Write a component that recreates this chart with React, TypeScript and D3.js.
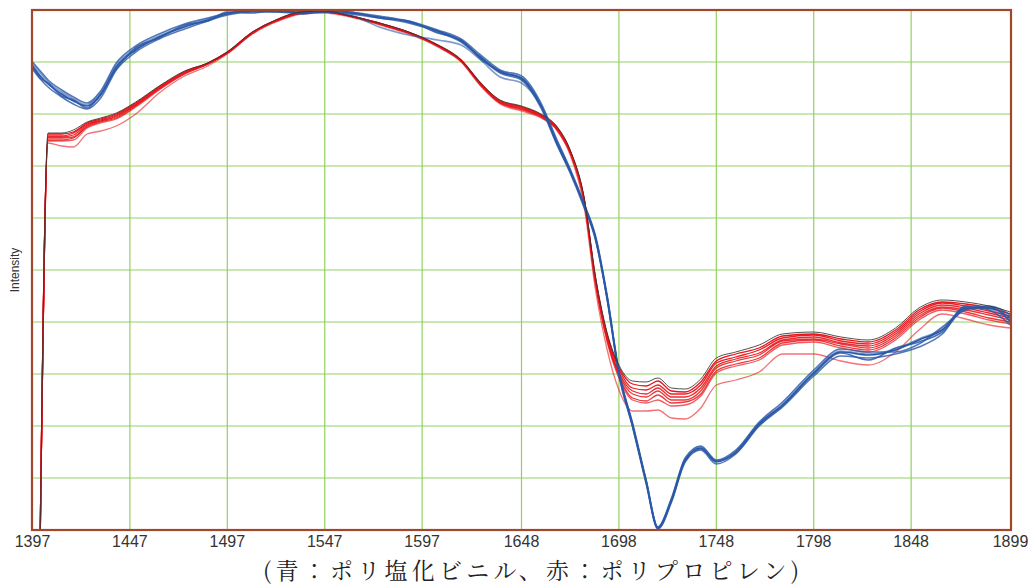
import React from 'react';
import * as d3 from 'd3';

const W = 1030;
const H = 588;

const xTicks = [1397, 1447, 1497, 1547, 1597, 1648, 1698, 1748, 1798, 1848, 1899];
const yGrid = [52, 104, 156, 208, 260, 312, 364, 416, 468];

const redWn = [1401, 1405, 1412, 1418, 1425, 1432, 1440, 1450, 1462, 1475, 1487, 1497, 1510, 1522, 1535, 1547, 1560, 1575, 1590, 1605, 1617, 1627, 1637, 1648, 1658, 1666, 1673, 1680, 1686, 1692, 1698, 1705, 1712, 1718, 1725, 1732, 1740, 1748, 1758, 1770, 1782, 1798, 1812, 1826, 1840, 1852, 1864, 1876, 1888, 1899];
const blueWn = [1397, ...redWn];

// Polypropylene (red) traces
const ppBlack = [0, 397, 397, 400, 408, 412, 417, 428, 444, 459, 467, 478, 498, 510, 518, 519, 514, 507, 498, 485, 470, 447, 430, 424, 416, 404, 380, 334, 253, 197, 165, 149, 148, 152, 142, 141, 151, 172, 178, 185, 196, 198, 193, 190, 202, 222, 230, 228, 224, 218];
const ppR1 = [0, 396, 396, 398, 407, 411, 416, 427, 443, 458, 467, 478, 498, 510, 518, 519, 514, 507, 498, 485, 470, 447, 429, 423, 415, 403, 379, 333, 252, 195, 163, 146, 144, 149, 139, 138, 148, 169, 176, 182, 194, 196, 191, 188, 200, 220, 228, 226, 222, 216];
const ppR2 = [0, 394, 394, 397, 406, 410, 415, 426, 443, 458, 467, 478, 498, 510, 518, 519, 514, 507, 498, 485, 470, 446, 429, 423, 415, 403, 379, 333, 251, 194, 161, 142, 140, 145, 136, 136, 145, 167, 173, 180, 192, 195, 189, 186, 198, 218, 227, 224, 219, 214];
const ppR3 = [0, 393, 393, 395, 405, 409, 414, 425, 442, 457, 466, 477, 497, 509, 517, 518, 514, 506, 497, 484, 469, 446, 428, 422, 414, 402, 378, 332, 249, 192, 158, 139, 136, 142, 133, 133, 142, 164, 171, 177, 190, 193, 187, 184, 196, 216, 225, 222, 217, 212];
const ppR4 = [0, 392, 392, 393, 404, 409, 413, 425, 441, 457, 466, 477, 497, 509, 517, 518, 514, 506, 497, 484, 469, 446, 428, 421, 414, 402, 378, 331, 248, 191, 156, 136, 133, 139, 130, 130, 139, 162, 169, 175, 189, 191, 186, 182, 194, 214, 223, 220, 215, 210];
const ppR5 = [0, 390, 390, 392, 403, 408, 412, 424, 441, 456, 466, 477, 497, 509, 517, 518, 514, 506, 497, 484, 469, 445, 427, 421, 413, 401, 377, 331, 247, 189, 154, 132, 129, 135, 127, 128, 136, 159, 166, 172, 187, 190, 184, 180, 192, 212, 222, 218, 212, 208];
const ppR6 = [0, 389, 389, 390, 402, 407, 411, 423, 440, 456, 466, 477, 497, 509, 517, 518, 514, 506, 497, 484, 469, 445, 427, 420, 413, 401, 377, 330, 246, 188, 152, 130, 127, 130, 124, 125, 134, 157, 164, 170, 185, 188, 182, 178, 190, 210, 220, 216, 210, 206];
const ppR7 = [0, 387, 384, 383, 396, 399, 404, 416, 437, 454, 464, 476, 496, 508, 516, 517, 513, 505, 496, 483, 468, 444, 426, 419, 412, 400, 375, 325, 240, 180, 140, 119, 119, 120, 112, 111, 122, 145, 150, 158, 176, 176, 169, 165, 178, 200, 216, 211, 205, 202];

// Polyvinyl chloride (blue) traces
const pvcB1 = [464, 454, 446, 436, 429, 424, 435, 463, 480, 493, 503, 510, 516, 519, 519, 518, 519, 517, 513, 508, 499, 489, 473, 458, 452, 424, 388, 359, 325, 292, 232, 157, 105, 48, 2, 30, 70, 82, 68, 78, 106, 125, 157, 178, 175, 180, 190, 200, 222, 222, 212];
const pvcB2 = [466, 457, 448, 438, 431, 425, 437, 465, 482, 494, 504, 511, 517, 519, 518, 517, 518, 515, 503, 495, 490, 485, 470, 453, 447, 424, 390, 360, 326, 293, 233, 158, 106, 49, 3, 31, 71, 83, 69, 79, 107, 126, 158, 179, 176, 181, 191, 201, 223, 221, 210];
const pvcB3 = [461, 451, 443, 433, 426, 421, 432, 460, 478, 491, 501, 509, 515, 518, 518, 517, 518, 516, 512, 507, 498, 488, 472, 457, 450, 422, 386, 357, 323, 290, 230, 155, 103, 46, 1, 28, 68, 80, 66, 76, 104, 123, 154, 174, 172, 176, 183, 196, 224, 220, 205];
const pvcB4 = [468, 459, 450, 440, 433, 427, 439, 467, 484, 496, 506, 512, 517, 520, 519, 519, 520, 518, 514, 509, 500, 491, 475, 460, 454, 427, 391, 361, 327, 294, 234, 159, 107, 50, 3, 32, 72, 84, 70, 80, 108, 128, 160, 181, 178, 178, 186, 203, 220, 224, 215];
const pvcB5 = [463, 452, 447, 434, 430, 422, 436, 461, 482, 492, 505, 509, 518, 517, 520, 516, 519, 518, 512, 509, 497, 490, 471, 459, 451, 425, 387, 358, 326, 291, 231, 157, 104, 48, 2, 29, 69, 81, 69, 77, 105, 124, 156, 177, 170, 182, 188, 198, 221, 223, 208];

const redSeries = [ppR7, ppR6, ppR5, ppR4, ppR3, ppR2, ppR1];
const redOpacity = [0.6, 0.7, 0.85, 0.85, 0.9, 0.95, 1];
const blueSeries = [pvcB2, pvcB3, pvcB4, pvcB5, pvcB1];
const blueOpacity = [0.6, 0.8, 0.8, 0.85, 1];

export default function App() {
  const x = d3.scaleLinear().domain([1397, 1899]).range([32.5, 1010.5]);
  const y = d3.scaleLinear().domain([0, 520]).range([530, 10]);
  const mk = (wn: number[]) =>
    d3
      .line<number>()
      .x((_, i) => x(wn[i]))
      .y((d) => y(d))
      .curve(d3.curveMonotoneX);
  const redLine = mk(redWn);
  const blueLine = mk(blueWn);
  const grid = '#94cf62';
  const frame = '#a0472c';

  return (
    <svg
      width={W}
      height={H}
      style={{ position: 'absolute', left: 0, top: 0, background: '#fff' }}
      xmlns="http://www.w3.org/2000/svg"
    >
      <defs>
        <clipPath id="plot">
          <rect x={32} y={10} width={979} height={520} />
        </clipPath>
      </defs>
      <rect x={0} y={0} width={W} height={H} fill="#fff" />
      {xTicks.slice(1, -1).map((t) => (
        <line key={'vx' + t} x1={x(t)} x2={x(t)} y1={10} y2={530} stroke={grid} strokeWidth={1.2} />
      ))}
      {yGrid.map((v) => (
        <line key={'hy' + v} x1={32} x2={1011} y1={y(v)} y2={y(v)} stroke={grid} strokeWidth={1.2} />
      ))}
      <g clipPath="url(#plot)" fill="none">
        {redSeries.map((s, i) => (
          <path key={'r' + i} d={redLine(s) || ''} stroke="#e8161b" strokeOpacity={redOpacity[i]} strokeWidth={1.3} />
        ))}
        {blueSeries.map((s, i) => (
          <path key={'b' + i} d={blueLine(s) || ''} stroke="#2a58a8" strokeOpacity={blueOpacity[i]} strokeWidth={1.6} />
        ))}
        <path d={redLine(ppBlack) || ''} stroke="#333" strokeOpacity={0.85} strokeWidth={1} />
      </g>
      <rect x={32} y={10} width={979} height={520} fill="none" stroke={frame} strokeWidth={2.2} />
      {xTicks.map((t) => (
        <text
          key={'t' + t}
          x={x(t)}
          y={547}
          textAnchor="middle"
          fontFamily="'Liberation Sans', Arial, sans-serif"
          fontSize={16}
          fill="#333"
        >
          {t}
        </text>
      ))}
      <text
        transform="translate(19,270) rotate(-90)"
        textAnchor="middle"
        fontFamily="'Liberation Sans', Arial, sans-serif"
        fontSize={12}
        fill="#333"
      >
        Intensity
      </text>
      <text
        x={263}
        y={579}
        fontFamily="'Noto Serif CJK JP', 'Noto Sans CJK JP', serif"
        fontSize={23}
        fill="#222"
        textLength={536}
        lengthAdjust="spacing"
      >
        (青：ポリ塩化ビニル、赤：ポリプロピレン)
      </text>
    </svg>
  );
}
